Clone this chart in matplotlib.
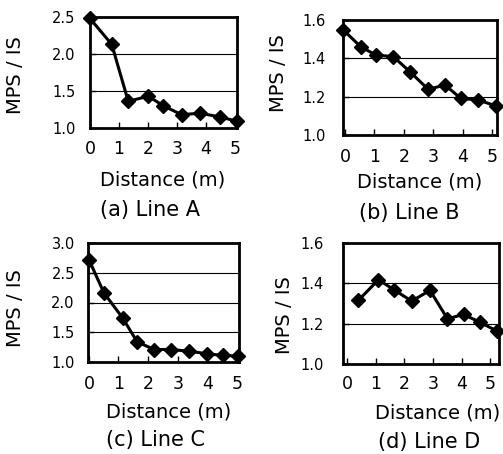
import numpy as np
import matplotlib
matplotlib.use('Agg')
import matplotlib.pyplot as plt

### data
dist_a = [0.0, 0.75, 1.32, 2.01, 2.53, 3.16, 3.79, 4.48, 5.08]
mps_a = [2.48, 2.13, 1.36, 1.43, 1.30, 1.18, 1.20, 1.15, 1.09]

dist_b = [-0.06, 0.53, 1.05, 1.64, 2.21, 2.83, 3.40, 3.94, 4.53, 5.14]
mps_b = [1.548, 1.461, 1.417, 1.409, 1.330, 1.238, 1.261, 1.191, 1.183, 1.151]

dist_c = [0.01, 0.51, 1.14, 1.63, 2.20, 2.79, 3.39, 3.98, 4.52, 5.05]
mps_c = [2.71, 2.16, 1.74, 1.34, 1.21, 1.21, 1.18, 1.14, 1.11, 1.10]

dist_d = [0.40, 1.10, 1.64, 2.26, 2.90, 3.51, 4.07, 4.63, 5.23]
mps_d = [1.316, 1.418, 1.368, 1.312, 1.365, 1.224, 1.246, 1.208, 1.164]

xticks = [0, 1, 2, 3, 4, 5]
yticks_a = [1.0, 1.5, 2.0, 2.5]
yticks_b = [1.0, 1.2, 1.4, 1.6]
yticks_c = [1.0, 1.5, 2.0, 2.5, 3.0]
yticks_d = [1.0, 1.2, 1.4, 1.6]

captions = ['(a) Line A', '(b) Line B', '(c) Line C', '(d) Line D']

W, H = 503, 454

plt.rcParams['font.family'] = ['DejaVu Sans']

fig = plt.figure(figsize=(W / 100, H / 100), dpi=100)


def px_axes(left, right, top, bottom):
    return fig.add_axes([left / W, 1 - bottom / H, (right - left) / W, (bottom - top) / H])


def px_text(x, y, s, **kw):
    fig.text(x / W, 1 - y / H, s, ha='center', va='center', **kw)


def panel(ax, x, y, yticks, xlim, ypad, xpad):
    '''
    one small line chart with diamonds
    '''
    for g in yticks[1:-1]:
        ax.axhline(g, color='black', lw=0.8, zorder=1)
    ax.plot(x, y, '-', color='black', lw=2.2, marker='D', ms=7,
            mfc='black', mec='black', zorder=3, clip_on=False)
    ax.set_xlim(*xlim)
    ax.set_ylim(yticks[0], yticks[-1])
    ax.set_xticks(xticks)
    ax.set_yticks(yticks)
    ax.set_yticklabels(['{:.1f}'.format(t) for t in yticks])
    ax.tick_params(axis='both', direction='in', length=4, width=1, color='black')
    ax.tick_params(axis='y', labelsize=10.5, pad=ypad)
    ax.tick_params(axis='x', labelsize=12.5, pad=xpad)
    for sp in ax.spines.values():
        sp.set_linewidth(2.0)


ax_a = px_axes(90, 237, 17, 128)
panel(ax_a, dist_a, mps_a, yticks_a, (0, 5.07), 10.5, 8.5)
ax_b = px_axes(343, 497, 20, 135)
panel(ax_b, dist_b, mps_b, yticks_b, (-0.07, 5.17), 12.5, 9)
ax_c = px_axes(88, 239, 243, 362)
panel(ax_c, dist_c, mps_c, yticks_c, (-0.03, 5.07), 9.5, 9.5)
ax_d = px_axes(343, 499, 243, 364)
panel(ax_d, dist_d, mps_d, yticks_d, (-0.14, 5.31), 14, 8)

# axis titles and captions placed in pixels
lab = dict(fontsize=14, fontweight='medium')
px_text(16, 75, 'MPS / IS', rotation=90, **lab)
px_text(279, 73, 'MPS / IS', rotation=90, **lab)
px_text(16, 308, 'MPS / IS', rotation=90, **lab)
px_text(284, 315, 'MPS / IS', rotation=90, **lab)

px_text(163, 180, 'Distance (m)', **lab)
px_text(420, 182, 'Distance (m)', **lab)
px_text(169, 412, 'Distance (m)', **lab)
px_text(438, 413, 'Distance (m)', **lab)

cap = dict(fontsize=15)
px_text(150, 210, captions[0], **cap)
px_text(409, 213, captions[1], **cap)
px_text(156, 440, captions[2], **cap)
px_text(429, 442, captions[3], **cap)

fig.savefig('out.png', dpi=100, facecolor='white')
